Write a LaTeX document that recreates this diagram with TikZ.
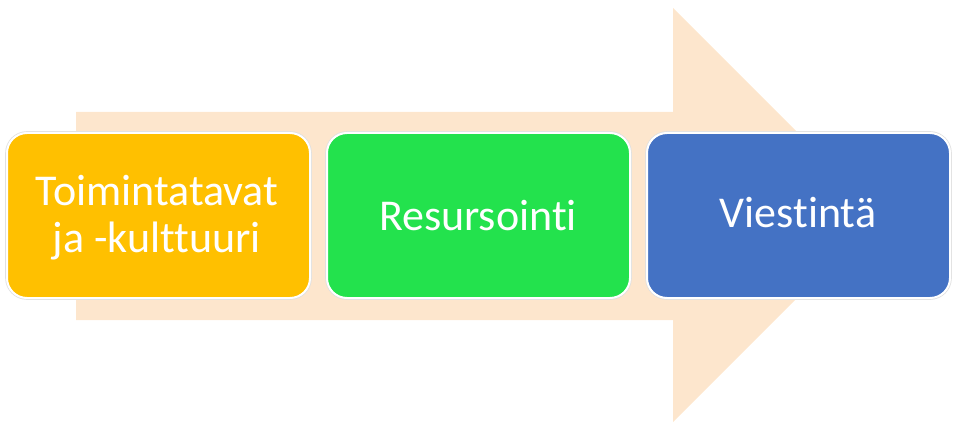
\documentclass[tikz,border=0pt]{standalone}
\usepackage{fontspec}
\setmainfont[RawFeature={-liga;-clig;-dlig}]{Carlito}
\definecolor{arrowpeach}{HTML}{FDE6CD}
\definecolor{boxorange}{HTML}{FFC000}
\definecolor{boxgreen}{HTML}{23E24D}
\definecolor{boxblue}{HTML}{4472C4}
\begin{document}
\begin{tikzpicture}[x=1pt,y=-1pt,
  stage/.style={rectangle, rounded corners=20pt, minimum width=303pt, minimum height=165pt,
    inner sep=0pt, text=white, align=center,
    preaction={draw=black!12, line width=3.6pt},
    draw=white, line width=2pt,
    font=\fontsize{44pt}{47pt}\selectfont},
  label/.style={text=white, inner sep=0pt, align=center, font=\fontsize{44pt}{47pt}\selectfont}]
\useasboundingbox (0,0) rectangle (953,425);
% big background arrow
\fill[arrowpeach] (76,112) -- (673,112) -- (673,8) -- (880,215) -- (673,422) -- (673,320) -- (76,320) -- cycle;
% stages
\node[stage, fill=boxorange] (s1) at (158.5,215.5) {};
\node[stage, fill=boxgreen] (s2) at (478.5,215.5) {};
\node[stage, fill=boxblue] (s3) at (798.5,215.5) {};
% labels
\node[label, anchor=base] (t1a) at (157,205) {Toimintatavat};
\node[label, anchor=base] (t1b) at (157,252) {ja -kulttuuri};
\node[label, anchor=base] (t2) at (478,230) {Resursointi};
\node[label, anchor=base] (t3) at (798,227) {Viestintä};
\end{tikzpicture}
\end{document}
